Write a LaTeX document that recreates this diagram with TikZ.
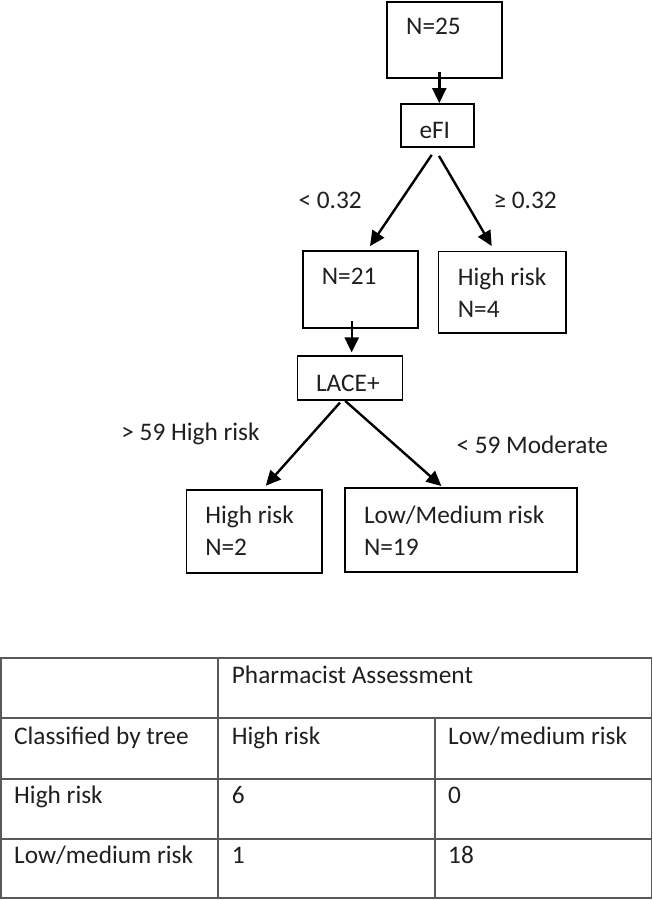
\documentclass[tikz,border=0pt]{standalone}
\usepackage{fontspec}
\setmainfont{Carlito}
\usetikzlibrary{arrows.meta,calc}
\begin{document}
\begin{tikzpicture}[x=1pt,y=-1pt,
  box/.style={draw=black,line width=1.8pt,rectangle,inner sep=0pt},
  txt/.style={inner sep=0pt,anchor=base west,font=\fontsize{25.3}{30}\selectfont,text=black!88},
  arr/.style={line width=2.4pt,-{Triangle[length=15pt,width=14pt]}},
  grid/.style={draw=black!65,line width=1.8pt}]
\useasboundingbox (0,0) rectangle (653,900);
% tree boxes
\node[box,minimum width=115,minimum height=76] (n25) at (444.5,40) {};
\node[box,minimum width=73.3,minimum height=43] (efi) at (437.3,125.5) {};
\node[box,minimum width=115.6,minimum height=77] (n21) at (360.5,289.5) {};
\node[box,minimum width=127.5,minimum height=81.5] (hr4) at (502.2,292.2) {};
\node[box,minimum width=105,minimum height=44] (lace) at (350,378) {};
\node[box,minimum width=135.8,minimum height=83.3] (hr2) at (254.3,531.6) {};
\node[box,minimum width=231.7,minimum height=83.7] (lm) at (461,529.8) {};
% box texts
\node[txt] (t25) at (406,34) {N=25};
\node[txt] (tefi) at (419.3,138) {eFI};
\node[txt] (t21) at (321.7,284) {N=21};
\node[txt] (thr4a) at (457.7,285) {High risk};
\node[txt] (thr4b) at (457.7,317) {N=4};
\node[txt] (tlace) at (315.9,391) {LACE+};
\node[txt] (thr2a) at (205.1,523) {High risk};
\node[txt] (thr2b) at (205.1,555) {N=2};
\node[txt] (tlma) at (363.8,523) {Low/Medium risk};
\node[txt] (tlmb) at (363.8,555) {N=19};
% branch labels
\node[txt] (l1) at (298.3,208) {< 0.32};
\node[txt] (l2) at (493.3,208) {≥ 0.32};
\node[txt] (l3) at (121.2,440) {> 59 High risk};
\node[txt] (l4) at (456.3,453) {< 59 Moderate};
% connectors
\draw[arr] ($(n25.south)+(-5.2,-6.5)$) -- ($(efi.north)+(2,0)$);
\draw[arr] ($(efi.south)+(-5.6,7)$) -- ($(n21.north)+(9.5,-4)$);
\draw[arr] ($(efi.south)+(1.7,8)$) -- ($(hr4.north)+(-10.5,-4.5)$);
\draw[arr] ($(n21.south)+(-8.8,-8)$) -- ($(lace.north)+(1.7,-2.7)$);
\draw[arr] ($(lace.south)+(-10,1.7)$) -- ($(hr2.north)+(11.5,-3.3)$);
\draw[arr] ($(lace.south)+(-4.8,0)$) -- ($(lm.north)+(-19.6,-1)$);
% table
\draw[grid] (1.3,658.3) rectangle (651.5,898.3);
\draw[grid] (1.3,718.3) -- (651.5,718.3);
\draw[grid] (1.3,779) -- (651.5,779);
\draw[grid] (1.3,839) -- (651.5,839);
\draw[grid] (218.3,658.3) -- (218.3,898.3);
\draw[grid] (435.3,718.3) -- (435.3,898.3);
\node[txt] (c12) at (231.7,683) {Pharmacist Assessment};
\node[txt] (c21) at (14,744) {Classified by tree};
\node[txt] (c22) at (231.7,744) {High risk};
\node[txt] (c23) at (448,744) {Low/medium risk};
\node[txt] (c31) at (14,803.3) {High risk};
\node[txt] (c32) at (231.7,803.3) {6};
\node[txt] (c33) at (448,803.3) {0};
\node[txt] (c41) at (14,863.3) {Low/medium risk};
\node[txt] (c42) at (231.7,863.3) {1};
\node[txt] (c43) at (448,863.3) {18};
\end{tikzpicture}
\end{document}
